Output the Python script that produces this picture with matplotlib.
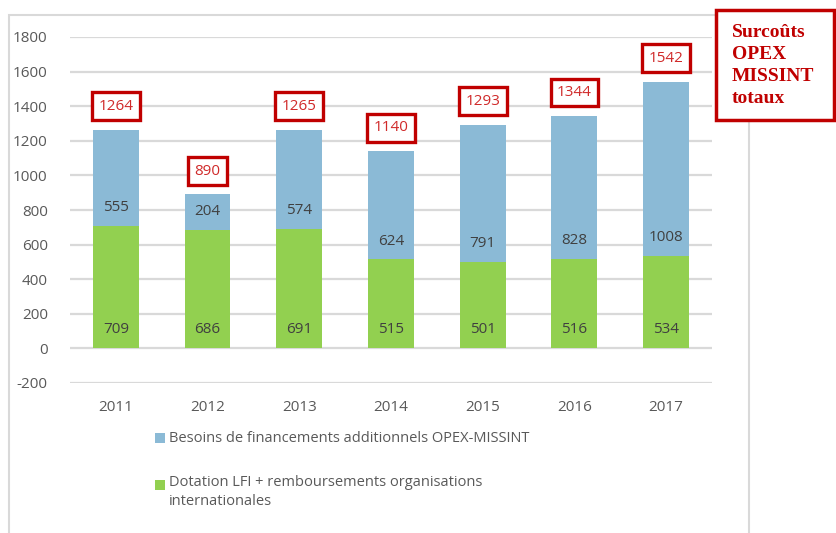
import numpy as np
import matplotlib.pyplot as plt
from matplotlib.patches import Rectangle

plt.rcParams['font.family'] = ['Open Sans', 'DejaVu Sans']
plt.rcParams['axes.unicode_minus'] = False

years = ['2011', '2012', '2013', '2014', '2015', '2016', '2017']
dotation = [709, 686, 691, 515, 501, 516, 534]
besoins = [555, 204, 574, 624, 791, 828, 1008]
totaux = [1264, 890, 1265, 1140, 1293, 1344, 1542]

lab_besoins = 'Besoins de financements additionnels OPEX-MISSINT'
lab_dotation = 'Dotation LFI + remboursements organisations\ninternationales'

c_blue = '#8bbad6'
c_green = '#92d050'
c_red = '#c00000'

W, H = 837, 533
fig = plt.figure(figsize=(W / 100, H / 100), dpi=100)
ax = fig.add_axes([70 / W, 1 - 383 / H, 642 / W, 346 / H])

x = np.arange(len(years))
ax.bar(x, dotation, width=0.5, color=c_green, zorder=2)
ax.bar(x, besoins, width=0.5, bottom=dotation, color=c_blue, zorder=2)

for i in range(len(years)):
    ax.text(x[i], 110, str(dotation[i]), ha='center', va='center',
            fontsize=11, color='#404040', zorder=3)
    ax.text(x[i], dotation[i] + 105, str(besoins[i]), ha='center', va='center',
            fontsize=11, color='#404040', zorder=3)
    ax.text(x[i], totaux[i] + 135, str(totaux[i]), ha='center', va='center',
            fontsize=11, color='#d02a2a', zorder=4,
            bbox=dict(boxstyle='square,pad=0.42', fc='white', ec=c_red, lw=2.4))

ax.set_xlim(-0.5, len(years) - 0.5)
ax.set_ylim(-200, 1800)
ax.set_yticks(np.arange(-200, 1801, 200))
ax.set_xticks(x)
ax.set_xticklabels(years)
ax.yaxis.grid(True, color='#d9d9d9', lw=1.6, zorder=0)
ax.tick_params(length=0, labelsize=11, labelcolor='#595959')
ax.tick_params(axis='y', pad=16)
ax.tick_params(axis='x', pad=12)
for s in ax.spines.values():
    s.set_visible(False)

# cadre du graphique
fig.patches.append(Rectangle((9 / W, -0.1), 740 / W, 1.1 - 15 / H, transform=fig.transFigure,
                             fill=False, ec='#d9d9d9', lw=1.5))

# legende
fig.patches.append(Rectangle((155 / W, 1 - 443 / H), 10 / W, 10 / H, transform=fig.transFigure,
                             fc=c_blue, ec='none'))
fig.text(169 / W, 1 - 438 / H, lab_besoins, fontsize=10.5, color='#595959', va='center')
fig.patches.append(Rectangle((155 / W, 1 - 490 / H), 10 / W, 10 / H, transform=fig.transFigure,
                             fc=c_green, ec='none'))
fig.text(169 / W, 1 - 475 / H, lab_dotation, fontsize=10.5, color='#595959', va='top',
         linespacing=1.35)

# encadre rouge a droite
fig.patches.append(Rectangle((716 / W, 1 - 120 / H), 118 / W, 110 / H, transform=fig.transFigure,
                             fc='white', ec=c_red, lw=2.5))
fig.text(732 / W, 1 - 24 / H, 'Surcoûts\nOPEX\nMISSINT\ntotaux', fontsize=14,
         family='Liberation Serif', weight='bold', color=c_red, va='top', linespacing=1.38)

fig.savefig('out.png', dpi=100)
